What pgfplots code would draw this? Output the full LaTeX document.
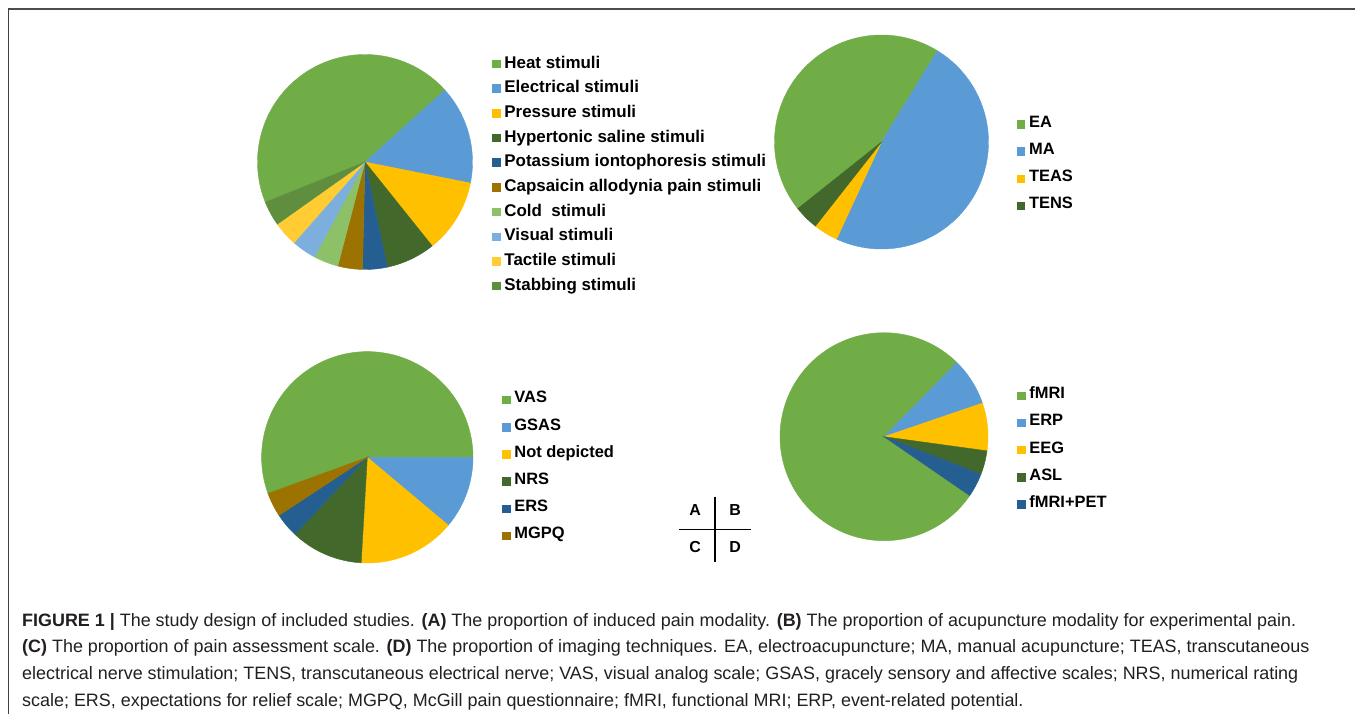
\documentclass[border=0pt]{standalone}
\usepackage{pgfplots}
\pgfplotsset{compat=1.18}
\usepackage{fontspec}
\setmainfont{Liberation Sans}

\definecolor{cGreen}{HTML}{70AD47}
\definecolor{cBlue}{HTML}{5B9BD5}
\definecolor{cGold}{HTML}{FFC000}
\definecolor{cDkGreen}{HTML}{43682B}
\definecolor{cDkBlue}{HTML}{255E91}
\definecolor{cBrown}{HTML}{9C7300}
\definecolor{cLtGreen}{HTML}{8CC168}
\definecolor{cLtBlue}{HTML}{7CAFDD}
\definecolor{cLtGold}{HTML}{FFCD33}
\definecolor{cMdGreen}{HTML}{5E8E3E}
\definecolor{capcol}{HTML}{231F20}

% values (number of studies) / colour
\def\dataA{12/cGreen,4/cBlue,3/cGold,2/cDkGreen,1/cDkBlue,1/cBrown,1/cLtGreen,1/cLtBlue,1/cLtGold,1/cMdGreen}
\def\dataB{12/cGreen,13/cBlue,1/cGold,1/cDkGreen}
\def\dataC{15/cGreen,3/cBlue,4/cGold,3/cDkGreen,1/cDkBlue,1/cBrown}
\def\dataD{21/cGreen,2/cBlue,2/cGold,1/cDkGreen,1/cDkBlue}

\newcommand{\drawpie}[2]{% #1 start angle, #2 value/colour list macro (clockwise)
  \gdef\pietotal{0}%
  \foreach \pv/\pc in #2 {\pgfmathsetmacro\pietmp{\pietotal+\pv}\xdef\pietotal{\pietmp}}%
  \xdef\piecur{#1}%
  \foreach \pv/\pc in #2 {%
    \pgfmathsetmacro\pa{\piecur}%
    \pgfmathsetmacro\pb{\piecur-360*\pv/\pietotal}%
    \pgfmathtruncatemacro\ns{max(3,abs(\pa-\pb)/2)+2}%
    \xdef\piecur{\pb}%
    \edef\pietemp{\noexpand\addplot[fill=\pc, draw=\pc, line width=0.4bp, domain=\pb:\pa, samples=\ns] ({cos(x)},{sin(x)}) -- (axis cs:0,0) -- cycle;}%
    \pietemp
  }%
}

\pgfplotsset{
  pie/.style={anchor=center, xmin=-1, xmax=1, ymin=-1, ymax=1, hide axis, clip=false,
    legend cell align=left,
    legend image code/.code={\fill[##1] (0bp,0bp) rectangle (7.5bp,7.5bp);},
    legend style={draw=none, fill=none, inner sep=0pt, outer sep=0pt, anchor=north west,
      column sep=4.5bp, row sep=0pt,
      nodes={inner sep=0pt, text height=13bp, text depth=11.7bp}}},
}

\begin{document}
\begin{tikzpicture}
\path[use as bounding box] (0,0) rectangle (1355bp,-714bp);
\fill[white] (0,0) rectangle (1355bp,-714bp);
\draw[line width=2bp, color=black!70] (8bp,-9bp) -- (1355bp,-9bp);
\draw[line width=1bp, color=black!75] (8bp,-8bp) -- (8bp,-714bp);

% A
\begin{axis}[pie, at={(365bp,-162bp)}, x=107.5bp, y=107.5bp,
  legend style={at={(1.0907,0.9977)}, font=\bfseries\fontsize{17}{20}\selectfont}]
\drawpie{202}{\dataA}
\legend{Heat stimuli, Electrical stimuli, Pressure stimuli, Hypertonic saline stimuli,
  Potassium iontophoresis stimuli, Capsaicin allodynia pain stimuli, Cold~ stimuli,
  Visual stimuli, Tactile stimuli, Stabbing stimuli}
\end{axis}

% B
\begin{axis}[pie, at={(881.5bp,-142bp)}, x=107bp, y=107bp,
  legend style={at={(1.1318,0.6294)}, font=\bfseries\fontsize{16.5}{20}\selectfont,
  nodes={text height=13bp, text depth=14.2bp}}]
\drawpie{218.5}{\dataB}
\legend{EA, MA, TEAS, TENS}
\end{axis}

% C
\begin{axis}[pie, at={(367.3bp,-457.3bp)}, x=105.7bp, y=105.7bp,
  legend style={at={(1.1372,0.8184)}, font=\bfseries\fontsize{16.5}{20}\selectfont,
  nodes={text height=13bp, text depth=14.2bp}}]
\drawpie{200}{\dataC}
\legend{VAS, GSAS, Not depicted, NRS, ERS, MGPQ}
\end{axis}

% D
\begin{axis}[pie, at={(884bp,-436.7bp)}, x=104bp, y=104bp,
  legend style={at={(1.1394,0.7457)}, font=\bfseries\fontsize{16.5}{20}\selectfont,
  nodes={text height=13bp, text depth=14.2bp}}]
\drawpie{325.5}{\dataD}
\legend{fMRI, ERP, EEG, ASL, fMRI+PET}
\end{axis}

% panel key
\draw[line width=1.5bp] (715bp,-496.7bp) -- (715bp,-562bp);
\draw[line width=1.5bp] (679.3bp,-529.3bp) -- (750.7bp,-529.3bp);
\begin{scope}[every node/.style={font=\bfseries\fontsize{16}{18}\selectfont, inner sep=0pt}]
\node at (695bp,-510bp) {A};
\node at (735bp,-510bp) {B};
\node at (695bp,-547.5bp) {C};
\node at (735bp,-547.5bp) {D};
\end{scope}

% caption
\begin{scope}[every node/.style={anchor=base west, inner sep=0pt, text=capcol, font=\fontsize{18}{22}\selectfont}]
\node at (22bp,-626bp) {\textbf{FIGURE 1 |} The study design of included studies. \textbf{(A)} The proportion of induced pain modality. \textbf{(B)} The proportion of acupuncture modality for experimental pain.};
\node at (22bp,-652.7bp) {\textbf{(C)} The proportion of pain assessment scale. \textbf{(D)} The proportion of imaging techniques. EA, electroacupuncture; MA, manual acupuncture; TEAS, transcutaneous};
\node at (22bp,-679.4bp) {electrical nerve stimulation; TENS, transcutaneous electrical nerve; VAS, visual analog scale; GSAS, gracely sensory and affective scales; NRS, numerical rating};
\node at (22bp,-706bp) {scale; ERS, expectations for relief scale; MGPQ, McGill pain questionnaire; fMRI, functional MRI; ERP, event-related potential.};
\end{scope}
\end{tikzpicture}
\end{document}
